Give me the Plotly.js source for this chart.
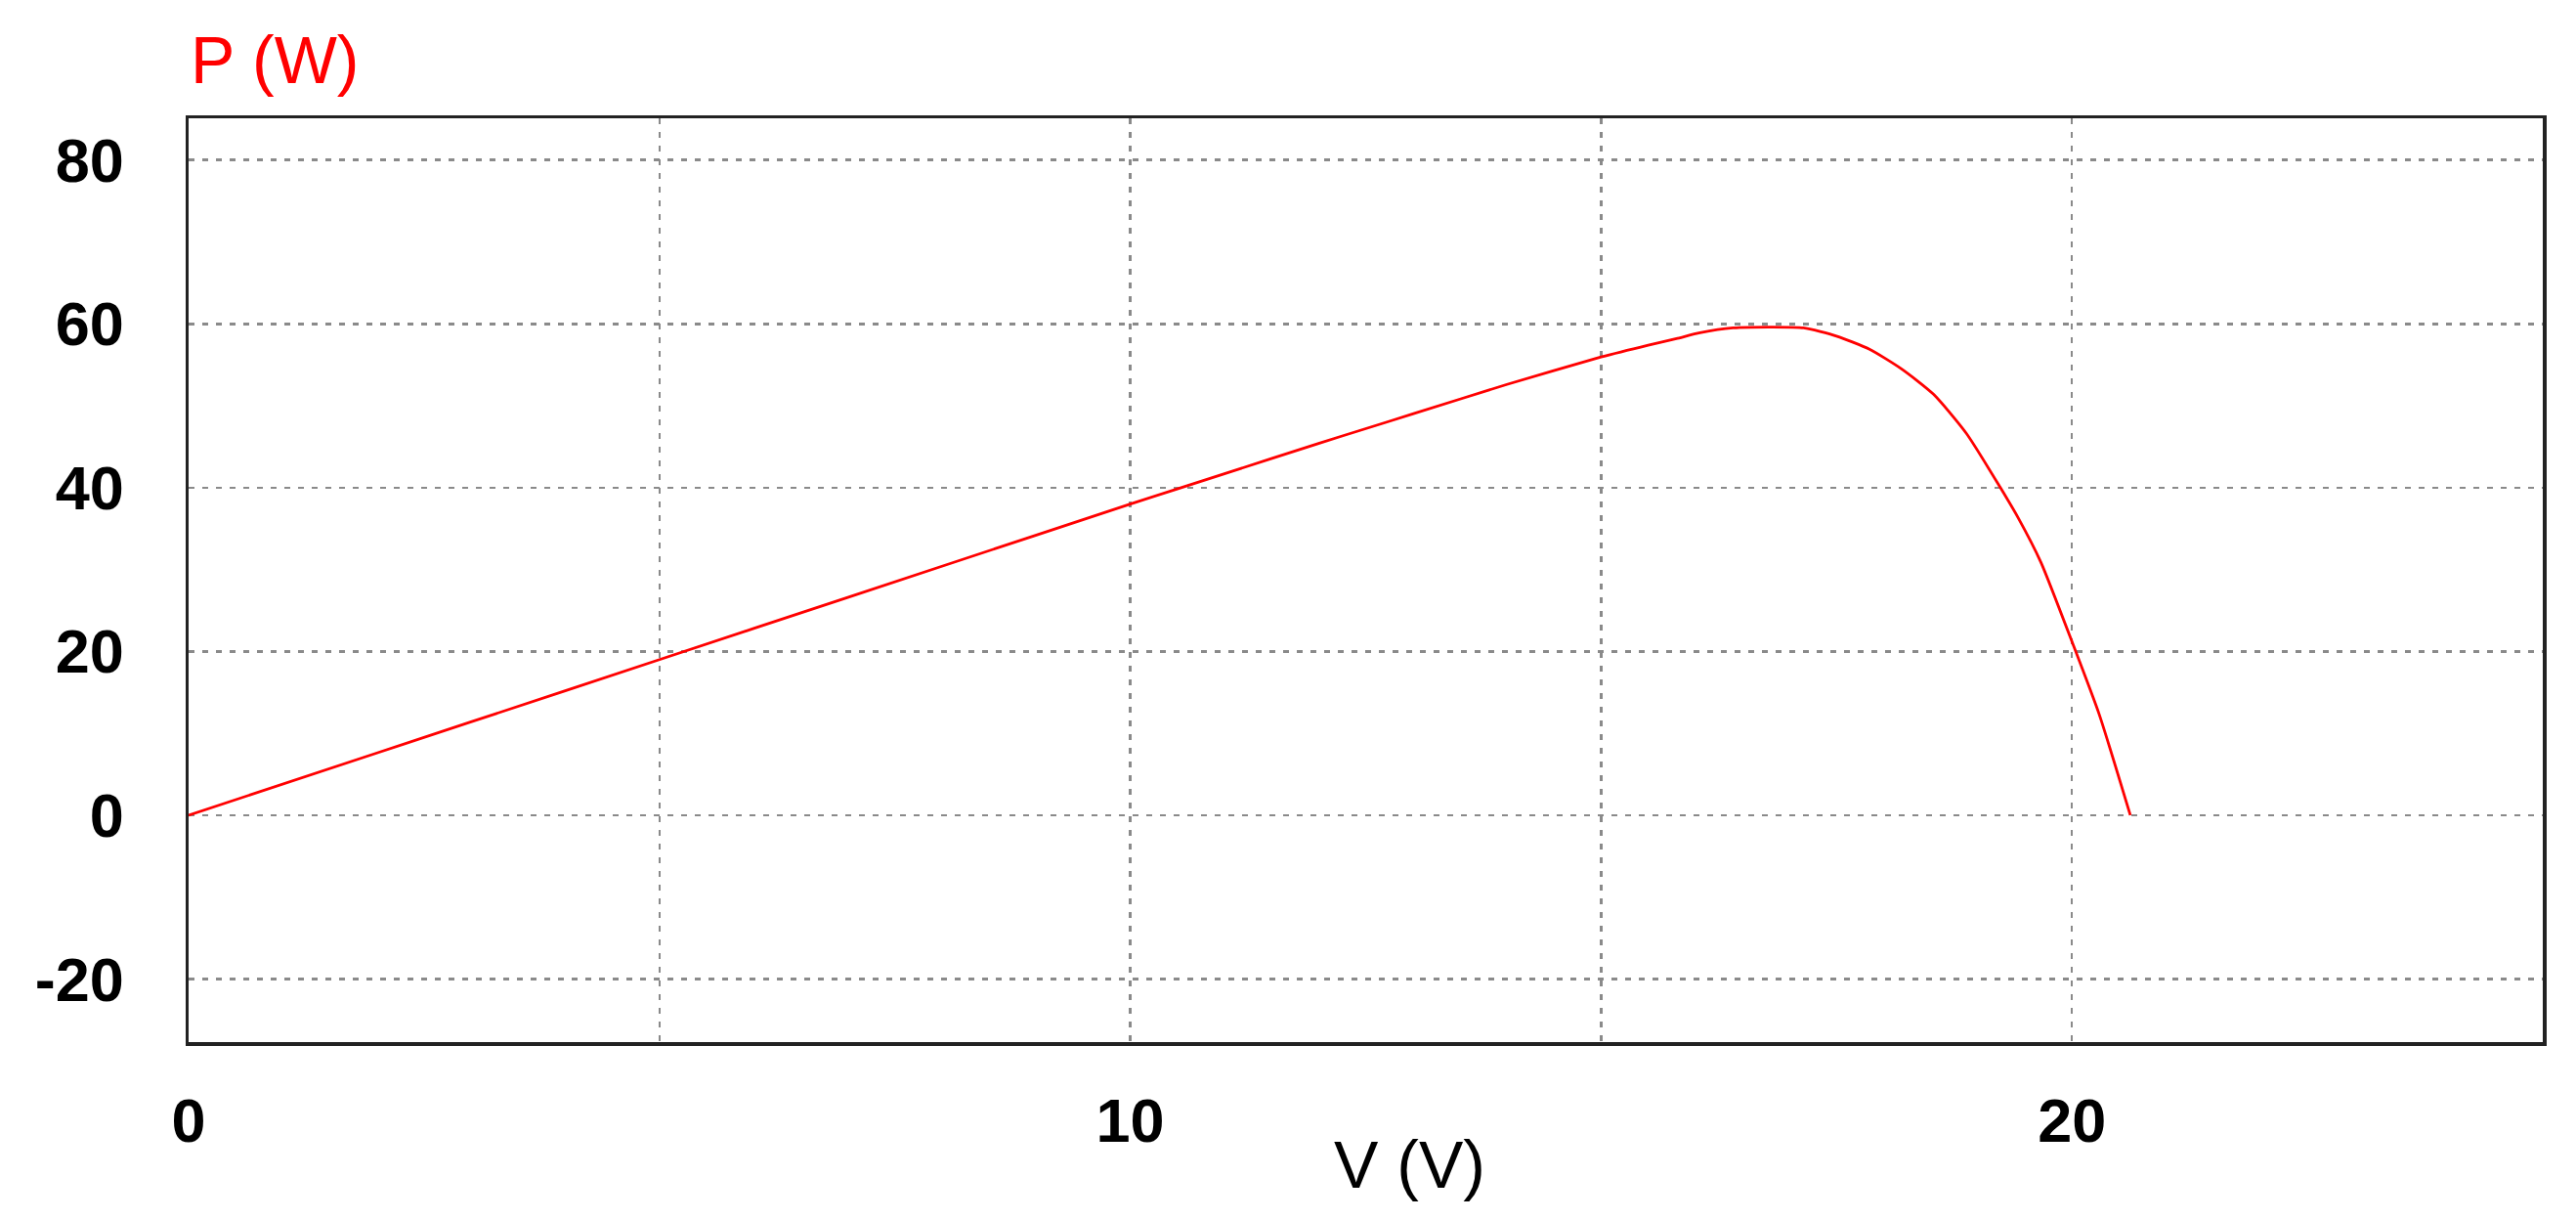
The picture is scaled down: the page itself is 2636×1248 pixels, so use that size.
<!DOCTYPE html>
<html>
<head>
<meta charset="utf-8">
<script src="https://cdn.plot.ly/plotly-3.0.1.min.js"></script>
<style>html,body{margin:0;padding:0;background:#fff;}#chart{width:2636px;height:1248px;}</style>
</head>
<body>
<div id="chart"></div>
<script>
// Voltage (V) and power (W)
const voltage = [0, 2, 4, 6, 8, 10, 11, 12, 12.5, 13, 14, 15, 15.5, 15.8, 16.05, 16.4, 16.8, 17.15, 17.5, 17.85, 18.19, 18.53, 18.88, 19.24, 19.43, 19.67, 20.02, 20.29, 20.62];
const power   = [0, 7.6, 15.2, 22.8, 30.4, 38.0, 41.7, 45.4, 47.2, 49.0, 52.6, 55.95, 57.4, 58.2, 58.9, 59.5, 59.6, 59.5, 58.5, 56.9, 54.5, 51.4, 46.6, 40.0, 36.3, 30.9, 20.6, 12.3, 0];

const xTickVals = [0, 5, 10, 15, 20, 25];
const xTickText = ['0', '', '10', '', '20', ''];
const yTickVals = [-20, 0, 20, 40, 60, 80];
const yTickText = ['-20', '0', '20', '40', '60', '80'];

const xTitle = 'V (V)';
const yTitle = 'P (W)';

const tickFont = {family: 'Liberation Sans, Arial, sans-serif', size: 63, color: '#000', weight: 'bold'};
const gridColor = '#8a8a8a';

const trace = {
  x: voltage, y: power, type: 'scatter', mode: 'lines',
  line: {color: '#ff0000', width: 2.8, shape: 'spline', smoothing: 0.6},
  hoverinfo: 'x+y', showlegend: false
};

const layout = {
  width: 2636, height: 1248,
  margin: {l: 193, r: 34, t: 121, b: 182},
  paper_bgcolor: '#fff', plot_bgcolor: '#fff',
  xaxis: {
    range: [0, 25], tickmode: 'array', tickvals: xTickVals, ticktext: xTickText,
    showgrid: true, gridcolor: gridColor, gridwidth: 2.5, griddash: '6px,8px',
    zeroline: false, showline: true, mirror: true, linecolor: '#222', linewidth: 3.5,
    ticks: '', tickfont: tickFont, ticklabelstandoff: 23
  },
  yaxis: {
    range: [-27.7, 85.1], tickmode: 'array', tickvals: yTickVals, ticktext: yTickText,
    showgrid: true, gridcolor: gridColor, gridwidth: 2.5, griddash: '6px,8px',
    zeroline: false, showline: true, mirror: true, linecolor: '#222', linewidth: 3.5,
    ticks: '', tickfont: tickFont, ticklabelstandoff: 50
  },
  annotations: [
    {text: yTitle, xref: 'paper', yref: 'paper', x: 0, y: 1.064, xanchor: 'left', yanchor: 'middle',
     showarrow: false, font: {family: 'Liberation Sans, Arial, sans-serif', size: 68, color: '#ff0000'}},
    {text: xTitle, xref: 'paper', yref: 'paper', x: 0.5185, y: -0.132, xanchor: 'center', yanchor: 'middle',
     showarrow: false, font: {family: 'Liberation Sans, Arial, sans-serif', size: 68, color: '#000'}}
  ]
};

Plotly.newPlot('chart', [trace], layout, {displayModeBar: false, staticPlot: true});
</script>
</body>
</html>
